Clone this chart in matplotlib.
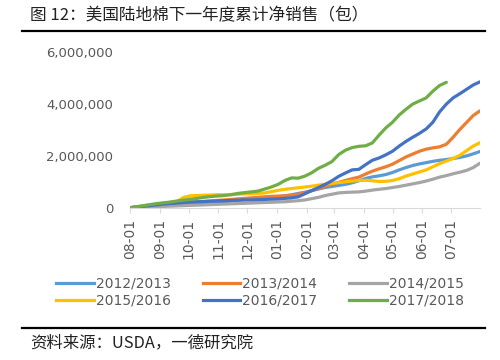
import pandas as pd
import matplotlib
matplotlib.use("Agg")
import matplotlib.pyplot as plt
import matplotlib.dates as mdates
from matplotlib.lines import Line2D
from matplotlib.ticker import FuncFormatter

plt.rcParams["font.family"] = ["Noto Sans CJK SC", "DejaVu Sans"]

TITLE = "图 12：美国陆地棉下一年度累计净销售（包）"
SOURCE = "资料来源：USDA，一德研究院"

SEASON_START = "2017-08-01"
SEASONS = ["2012/2013", "2013/2014", "2014/2015", "2015/2016", "2016/2017", "2017/2018"]
COLORS = ["#5B9BD5", "#ED7D31", "#A5A5A5", "#FFC000", "#4472C4", "#70AD47"]

# weekly cumulative net sales, million bales
s2012 = [0, 0.02, 0.04, 0.06, 0.08, 0.10, 0.12, 0.13, 0.14, 0.15, 0.16, 0.17, 0.18, 0.20,
         0.23, 0.26, 0.29, 0.31, 0.33, 0.35, 0.37, 0.39, 0.42, 0.46, 0.50, 0.55, 0.60, 0.66,
         0.72, 0.78, 0.82, 0.86, 0.90, 0.96, 1.04, 1.13, 1.19, 1.23, 1.28, 1.36, 1.46, 1.55,
         1.63, 1.69, 1.74, 1.79, 1.83, 1.86, 1.90, 1.94, 2.00, 2.08, 2.17]
s2013 = [0, 0.03, 0.06, 0.09, 0.12, 0.14, 0.16, 0.18, 0.20, 0.21, 0.22, 0.24, 0.26, 0.28,
         0.30, 0.32, 0.34, 0.36, 0.38, 0.40, 0.42, 0.44, 0.45, 0.46, 0.47, 0.52, 0.58, 0.66,
         0.74, 0.82, 0.90, 0.98, 1.05, 1.12, 1.18, 1.30, 1.41, 1.50, 1.58, 1.68, 1.82, 1.96,
         2.07, 2.18, 2.26, 2.31, 2.35, 2.45, 2.72, 3.02, 3.29, 3.56, 3.74]
s2014 = [0, 0.01, 0.02, 0.03, 0.04, 0.05, 0.06, 0.07, 0.08, 0.09, 0.10, 0.11, 0.12, 0.13,
         0.14, 0.15, 0.16, 0.17, 0.18, 0.19, 0.20, 0.21, 0.22, 0.23, 0.25, 0.27, 0.30, 0.35,
         0.40, 0.47, 0.52, 0.57, 0.59, 0.60, 0.61, 0.64, 0.68, 0.71, 0.74, 0.78, 0.82, 0.87,
         0.92, 0.97, 1.03, 1.10, 1.18, 1.24, 1.31, 1.37, 1.44, 1.55, 1.72]
s2015 = [0, 0.03, 0.07, 0.10, 0.14, 0.17, 0.20, 0.24, 0.40, 0.46, 0.47, 0.48, 0.49, 0.50,
         0.50, 0.51, 0.52, 0.53, 0.54, 0.55, 0.57, 0.62, 0.67, 0.71, 0.74, 0.77, 0.80, 0.83,
         0.87, 0.91, 0.94, 0.97, 1.00, 1.03, 1.05, 1.06, 1.04, 1.01, 1.02, 1.05, 1.12, 1.22,
         1.30, 1.38, 1.46, 1.58, 1.70, 1.80, 1.90, 2.02, 2.20, 2.38, 2.51]
s2016 = [0, 0.02, 0.05, 0.08, 0.11, 0.14, 0.16, 0.18, 0.20, 0.22, 0.23, 0.24, 0.25, 0.26,
         0.27, 0.28, 0.29, 0.30, 0.30, 0.31, 0.32, 0.33, 0.34, 0.36, 0.38, 0.42, 0.54, 0.66,
         0.78, 0.90, 1.04, 1.21, 1.34, 1.46, 1.48, 1.66, 1.83, 1.92, 2.04, 2.18, 2.38, 2.56,
         2.72, 2.87, 3.04, 3.30, 3.70, 4.00, 4.24, 4.40, 4.57, 4.74, 4.86]
s2017 = [0, 0.04, 0.08, 0.12, 0.16, 0.19, 0.22, 0.26, 0.29, 0.33, 0.36, 0.40, 0.43, 0.45,
         0.47, 0.50, 0.55, 0.58, 0.61, 0.64, 0.72, 0.80, 0.90, 1.05, 1.15, 1.14, 1.22, 1.35,
         1.52, 1.64, 1.78, 2.05, 2.22, 2.32, 2.37, 2.39, 2.50, 2.80, 3.08, 3.30, 3.58, 3.80,
         4.00, 4.12, 4.24, 4.50, 4.72, 4.84]

series = [s2012, s2013, s2014, s2015, s2016, s2017]


def main():
    fig = plt.figure(figsize=(5, 3.6), dpi=100)
    ax = fig.add_axes([0.26, 1 - 207.7 / 360, 0.70, (207.7 - 52.3) / 360])

    for name, vals, color in zip(SEASONS, series, COLORS):
        dates = pd.date_range(SEASON_START, periods=len(vals), freq="7D")
        ax.plot(dates, [v * 1e6 for v in vals], color=color, lw=2.3,
                solid_capstyle="round", label=name)

    ax.set_ylim(0, 6e6)
    ax.set_yticks([0, 2e6, 4e6, 6e6])
    ax.yaxis.set_major_formatter(FuncFormatter(lambda v, p: f"{int(v):,}"))
    ax.set_xlim(pd.Timestamp(SEASON_START), pd.Timestamp("2018-07-31"))
    ax.xaxis.set_major_locator(mdates.MonthLocator())
    ax.xaxis.set_major_formatter(mdates.DateFormatter("%m-%d"))

    for side in ("top", "right", "left"):
        ax.spines[side].set_visible(False)
    ax.spines["bottom"].set_color("#d9d9d9")
    ax.tick_params(axis="y", length=0, labelcolor="#595959", pad=12)
    ax.tick_params(axis="x", length=3.6, color="#d9d9d9", labelcolor="#595959",
                   labelrotation=90, pad=4.3)
    for lbl in ax.get_yticklabels():
        lbl.set_fontfamily("DejaVu Sans")
        lbl.set_fontsize(9.5)
    for lbl in ax.get_xticklabels():
        lbl.set_fontfamily("DejaVu Sans")
        lbl.set_fontsize(10)

    fig.text(0.06, 1 - 16 / 360, TITLE, fontsize=12, color="#222222", va="center")
    fig.add_artist(Line2D([22 / 500, 485 / 500], [1 - 31 / 360] * 2, color="black", lw=1.6))
    fig.add_artist(Line2D([22 / 500, 485 / 500], [1 - 328 / 360] * 2, color="black", lw=1.6))
    fig.text(0.06, 1 - 343 / 360, SOURCE, fontsize=11.8, color="#222222", va="center")

    # legend is filled row by row like the original
    order = [0, 3, 1, 4, 2, 5]
    handles = [Line2D([], [], color=COLORS[i], lw=2.3) for i in order]
    labels = [SEASONS[i] for i in order]
    fig.legend(handles, labels, loc="center", bbox_to_anchor=(0.52, 1 - 292 / 360),
               ncol=3, frameon=False, handlelength=2.7, handletextpad=0.15,
               columnspacing=2.3, labelspacing=0.2, prop={"family": "DejaVu Sans", "size": 10},
               labelcolor="#595959")

    fig.savefig("out.png", dpi=100)


if __name__ == "__main__":
    main()
